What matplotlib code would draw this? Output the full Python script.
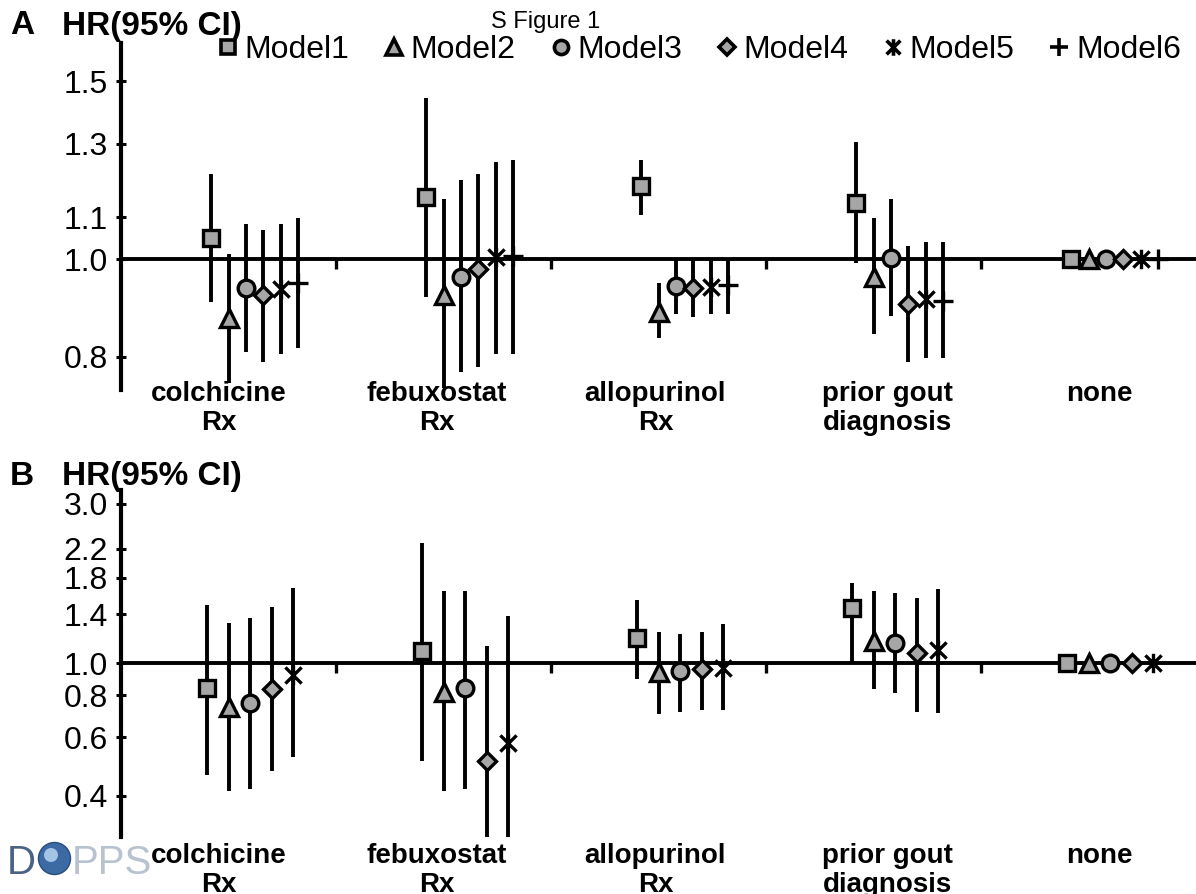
import numpy as np
import matplotlib
matplotlib.use("Agg")
import matplotlib.pyplot as plt
import matplotlib.transforms as mtransforms
from matplotlib.path import Path
from matplotlib.lines import Line2D
from matplotlib.patches import Circle
from matplotlib.ticker import FixedLocator, NullLocator

plt.rcParams['font.family'] = ['Liberation Sans', 'DejaVu Sans']

categories = ["colchicine\nRx", "febuxostat\nRx", "allopurinol\nRx",
              "prior gout\ndiagnosis", "none"]
models = ["Model1", "Model2", "Model3", "Model4", "Model5", "Model6"]

# panel A: hazard ratios with 95% CI, one row per model
a_hr = [[1.049, 1.152, 1.181, 1.136, 1.0],
        [0.874, 0.921, 0.886, 0.960, 1.0],
        [0.936, 0.960, 0.940, 1.002, 1.0],
        [0.921, 0.977, 0.936, 0.903, 1.0],
        [0.934, 1.005, 0.938, 0.913, 1.0],
        [0.947, 1.007, 0.943, 0.909, 1.0]]
a_lo = [[0.907, 0.917, 1.105, 0.991, 1.0],
        [0.754, 0.745, 0.835, 0.843, 1.0],
        [0.809, 0.773, 0.882, 0.878, 1.0],
        [0.791, 0.782, 0.876, 0.791, 1.0],
        [0.805, 0.805, 0.882, 0.798, 1.0],
        [0.817, 0.805, 0.882, 0.798, 1.0]]
a_hi = [[1.214, 1.443, 1.253, 1.305, 1.0],
        [1.011, 1.146, 0.947, 1.098, 1.0],
        [1.083, 1.197, 0.998, 1.146, 1.0],
        [1.068, 1.214, 0.998, 1.030, 1.0],
        [1.083, 1.247, 0.998, 1.039, 1.0],
        [1.098, 1.253, 0.998, 1.039, 1.0]]
a_ticks = [0.8, 1.0, 1.1, 1.3, 1.5]
a_ticklabels = ["0.8", "1.0", "1.1", "1.3", "1.5"]

# panel B: only models 1-5
b_hr = [[0.842, 1.086, 1.188, 1.461, 1.0],
        [0.738, 0.819, 0.940, 1.164, 1.0],
        [0.759, 0.842, 0.946, 1.148, 1.0],
        [0.836, 0.509, 0.959, 1.071, 1.0],
        [0.921, 0.576, 0.966, 1.094, 1.0]]
b_lo = [[0.462, 0.509, 0.896, 1.000, 1.0],
        [0.414, 0.414, 0.703, 0.836, 1.0],
        [0.419, 0.419, 0.713, 0.813, 1.0],
        [0.475, 0.290, 0.723, 0.713, 1.0],
        [0.523, 0.290, 0.723, 0.708, 1.0]]
b_hi = [[1.492, 2.287, 1.544, 1.737, 1.0],
        [1.318, 1.643, 1.238, 1.643, 1.0],
        [1.364, 1.643, 1.221, 1.621, 1.0],
        [1.471, 1.124, 1.238, 1.565, 1.0],
        [1.677, 1.383, 1.308, 1.666, 1.0]]
b_ticks = [0.4, 0.6, 0.8, 1.0, 1.4, 1.8, 2.2, 3.0]
b_ticklabels = ["0.4", "0.6", "0.8", "1.0", "1.4", "1.8", "2.2", "3.0"]

# Excel style star marker: an x with a vertical stroke
star = Path([(-1, -1), (1, 1), (-1, 1), (1, -1), (0, -1.2), (0, 1.2)],
            [Path.MOVETO, Path.LINETO, Path.MOVETO, Path.LINETO,
             Path.MOVETO, Path.LINETO])
markers = ['s', '^', 'o', 'D', star, '+']
msizes = [12, 13, 12, 9, 14, 15]
gray = '#A6A6A6'
label_shift = [-0.047, -0.033, -0.014, 0.065, 0.051]

fig = plt.figure(figsize=(11.96, 8.94), dpi=100)
axA = fig.add_axes([121 / 1196, 1 - 390 / 894, 1 - 121 / 1196, 347 / 894])
axB = fig.add_axes([121 / 1196, 1 - 837 / 894, 1 - 121 / 1196, 347 / 894])


def draw_panel(ax, hr, lo, hi, step, ylim, ticks, ticklabels, label_top):
    xs = np.arange(len(categories))
    for i in range(len(hr)):
        x = xs + (i - 1) * step
        h = np.array(hr[i])
        err = [h - np.array(lo[i]), np.array(hi[i]) - h]
        ax.errorbar(x, h, yerr=err, fmt='none', ecolor='black',
                    elinewidth=2.8, capsize=0, zorder=3)
        ax.plot(x, h, linestyle='none', marker=markers[i], ms=msizes[i],
                mfc=gray if i < 4 else 'none', mec='black', mew=2.4, zorder=4)
    ax.set_yscale('log')
    ax.set_ylim(ylim)
    ax.set_xlim(-0.5, len(categories) - 0.5)
    ax.yaxis.set_major_locator(FixedLocator(ticks))
    ax.yaxis.set_minor_locator(NullLocator())
    ax.set_yticklabels(ticklabels)
    ax.set_xticks(xs[:-1] + 0.5)
    ax.set_xticklabels([])
    ax.xaxis.set_minor_locator(NullLocator())
    ax.tick_params(axis='y', direction='inout', length=7, width=2.2,
                   labelsize=23, pad=6)
    ax.tick_params(axis='x', direction='out', length=7, width=2.4)
    for s in ['top', 'right']:
        ax.spines[s].set_visible(False)
    ax.spines['bottom'].set_position(('data', 1.0))
    ax.spines['bottom'].set_linewidth(2.8)
    ax.spines['left'].set_linewidth(3.0)
    ax.patch.set_visible(False)
    tr = mtransforms.blended_transform_factory(ax.transData, fig.transFigure)
    for k, lab in enumerate(categories):
        ax.text(k + label_shift[k], label_top, lab, transform=tr, ha='center',
                va='top', fontsize=20, fontweight='bold', linespacing=1.15)


draw_panel(axA, a_hr, a_lo, a_hi, 0.081, (0.742, 1.636), a_ticks,
           a_ticklabels, 1 - 381 / 894)
draw_panel(axB, b_hr, b_lo, b_hi, 0.1, (0.301, 3.30), b_ticks,
           b_ticklabels, 1 - 843 / 894)

# panel titles
for y, letter in [(26, "A"), (476, "B")]:
    fig.text(10 / 1196, 1 - y / 894, letter, fontsize=24, fontweight='bold',
             va='center')
    fig.text(62 / 1196, 1 - y / 894, "HR(95% CI)", fontsize=24,
             fontweight='bold', va='center')
fig.text(546 / 1196, 1 - 22 / 894, "S Figure 1", fontsize=17, ha='center',
         va='center')

# legend
handles = [Line2D([], [], linestyle='none', marker=markers[i],
                  ms=msizes[i] * 0.85, mfc=gray if i < 4 else 'none',
                  mec='black', mew=2.6) for i in range(len(models))]
fig.legend(handles, models, loc='center', bbox_to_anchor=(698 / 1196, 1 - 50 / 894),
           ncol=6, frameon=False, fontsize=23, handletextpad=0.12,
           columnspacing=1.0, handlelength=0.8, borderpad=0)

# DOPPS logo
fig.text(7 / 1196, 1 - 874 / 894, "D", fontsize=29, color='#4b6283')
fig.patches.append(Circle((0.545, 0.355), 0.16, transform=fig.dpi_scale_trans,
                          facecolor='#3c6aa3', edgecolor='#2a4c7c', lw=1))
fig.patches.append(Circle((0.51, 0.39), 0.07, transform=fig.dpi_scale_trans,
                          facecolor='#a4c4e6', edgecolor='none'))
fig.text(72 / 1196, 1 - 874 / 894, "PPS", fontsize=29, color='#b8c2ce')

fig.savefig("out.png", dpi=100)
